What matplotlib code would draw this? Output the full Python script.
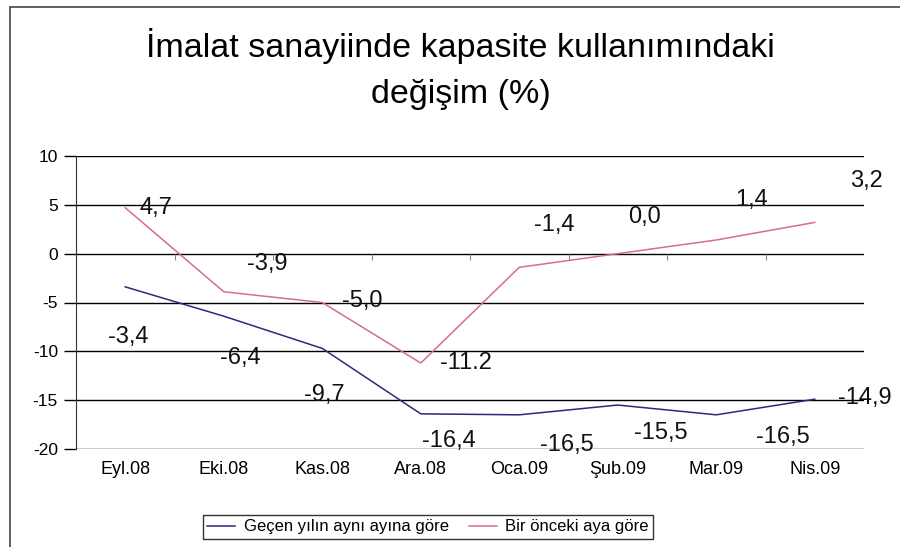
import matplotlib
matplotlib.use("Agg")
import matplotlib.pyplot as plt
from matplotlib.patches import Rectangle
import numpy as np

plt.rcParams['font.family'] = ['Liberation Sans', 'DejaVu Sans']
plt.rcParams['axes.unicode_minus'] = False

# data
months = ['Eyl.08', 'Eki.08', 'Kas.08', 'Ara.08', 'Oca.09', 'Şub.09', 'Mar.09', 'Nis.09']
yoy = [-3.4, -6.4, -9.7, -16.4, -16.5, -15.5, -16.5, -14.9]
mom = [4.7, -3.9, -5.0, -11.2, -1.4, 0.0, 1.4, 3.2]
yoy_labels = ['-3,4', '-6,4', '-9,7', '-16,4', '-16,5', '-15,5', '-16,5', '-14,9']
mom_labels = ['4,7', '-3,9', '-5,0', '-11.2', '-1,4', '0,0', '1,4', '3,2']

# label offsets in pixels (dx, dy up)
yoy_off = [(3, -50), (17, -42), (2, -47), (28, -27), (48, -30), (43, -28), (67, -22), (50, 1)]
mom_off = [(31, 0), (44, 28), (40, 1), (45, 0), (35, 42), (27, 37), (35, 40), (52, 41)]

c_blue = '#2a2a7c'
c_pink = '#d66a9c'

fig = plt.figure(figsize=(9, 5.47), dpi=100)
ax = fig.add_axes([76/900, 1-449/547, (864-76)/900, (449-156)/547])

x = np.arange(len(months))
ax.plot(x, yoy, color=c_blue, lw=1.1, label='Geçen yılın aynı ayına göre')
ax.plot(x, mom, color=c_pink, lw=1.1, label='Bir önceki aya göre')

for xi, v, t, o in zip(x, yoy, yoy_labels, yoy_off):
    ax.annotate(t, (xi, v), xytext=o, textcoords='offset pixels',
                ha='center', va='center', fontsize=17, color='#111111')
for xi, v, t, o in zip(x, mom, mom_labels, mom_off):
    ax.annotate(t, (xi, v), xytext=o, textcoords='offset pixels',
                ha='center', va='center', fontsize=17, color='#111111')

# axes
ax.set_xlim(-0.5, len(months) - 0.5)
ax.set_ylim(-20, 10)
ax.set_yticks(np.arange(-20, 11, 5))
ax.set_xticks(x)
ax.set_xticklabels(months, fontsize=13)
ax.grid(axis='y', color='black', lw=1)
ax.set_axisbelow(True)
for s in ['top', 'right', 'bottom']:
    ax.spines[s].set_visible(False)
ax.spines['left'].set_color('#333333')
ax.tick_params(axis='y', length=9, width=1, labelsize=12.5, pad=4)
ax.tick_params(axis='x', length=0, pad=9)
# small category ticks on the zero line
ax.vlines(np.arange(len(months) + 1) - 0.5, -0.6, 0, color='#888888', lw=0.8)

# title
fig.text(460/900, 1-46/547, 'İmalat sanayiinde kapasite kullanımındaki',
         ha='center', va='center', fontsize=24.5)
fig.text(461/900, 1-95/547, 'değişim (%)', ha='center', va='center', fontsize=24.5)

leg = fig.legend(loc='center', bbox_to_anchor=(428/900, 1-527/547), ncol=2,
                 fontsize=12, frameon=True, fancybox=False, edgecolor='black',
                 handlelength=1.7, handletextpad=0.5, columnspacing=1.2,
                 borderpad=0.25, borderaxespad=0)
leg.get_frame().set_linewidth(1)

# outer border
fig.patches.append(Rectangle((10/900, -0.2), 1.2, 1.2 - 7/547, transform=fig.transFigure,
                             fill=False, edgecolor='#444444', lw=1.2))

fig.savefig('out.png', dpi=100)
